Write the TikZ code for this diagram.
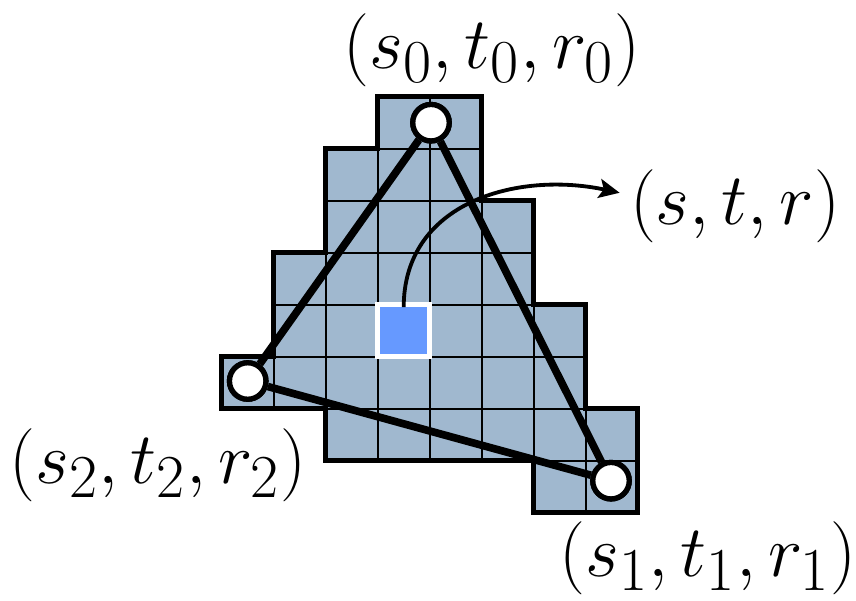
\documentclass[tikz,border=0pt]{standalone}
\usetikzlibrary{arrows.meta}
\definecolor{cellblue}{RGB}{160,184,207}
\definecolor{pixblue}{RGB}{102,153,255}
\tikzset{
    cellbox/.style={draw=black, line width=0.7pt, fill=cellblue},
    vertex/.style={draw=black, circle, fill=white, line width=1.8pt, minimum size=12.4pt, inner sep=0pt},
    edge/.style={line width=2.6pt},
    coordlabel/.style={font=\Huge}
}
\begin{document}
\begin{tikzpicture}[x=0.34pt, y=-0.34pt]
        \useasboundingbox (0,0) rectangle (856,600);
        % covered cells
        \begin{scope}[shift={(221.7,96.7)}, x=17.68pt, y=-17.68pt]
            \foreach \r/\a/\b in {0/3/4, 1/2/4, 2/2/5, 3/1/5, 4/1/6, 5/0/6, 6/2/7, 7/6/7} {
                \foreach \c in {\a,...,\b} {
                    \draw[cellbox] (\c, \r) rectangle ++(1, 1);
                }
            }
            % outline
            \draw[line width=1.6pt, line join=miter] (3,0) -- (5,0) -- (5,2) -- (6,2) -- (6,4) -- (7,4) -- (7,6) -- (8,6) -- (8,8) -- (6,8) -- (6,7) -- (2,7) -- (2,6) -- (0,6) -- (0,5) -- (1,5) -- (1,3) -- (2,3) -- (2,1) -- (3,1) -- cycle;
            % current pixel
            \node[draw=white, fill=pixblue, line width=1.7pt, minimum size=17.68pt, inner sep=0pt] (pix) at (3.5, 4.5) {};
        \end{scope}
        % triangle
        \node[vertex] (v0) at (431, 122.7) {};
        \node[vertex] (v1) at (611, 480.7) {};
        \node[vertex] (v2) at (247.7, 381) {};
        \draw[edge] (v0) -- (v1) -- (v2) -- (v0);
        \node[vertex] at (v0) {};
        \node[vertex] at (v1) {};
        \node[vertex] at (v2) {};
        % labels
        \node[coordlabel] (lab0) at (492, 50) {$(s_0, t_0, r_0)$};
        \node[coordlabel] (lab1) at (708, 558) {$(s_1, t_1, r_1)$};
        \node[coordlabel] (lab2) at (158, 465) {$(s_2, t_2, r_2)$};
        \node[coordlabel] (pt) at (735, 206) {$(s, t, r)$};
        \draw[line width=1.3pt, -{Stealth[length=7pt, width=6.5pt, inset=1.5pt]}] ([yshift=-1.7pt]pix.north) to[out=90, in=168, looseness=1.1] ([yshift=4.5pt]pt.west);
    \end{tikzpicture}
\end{document}
